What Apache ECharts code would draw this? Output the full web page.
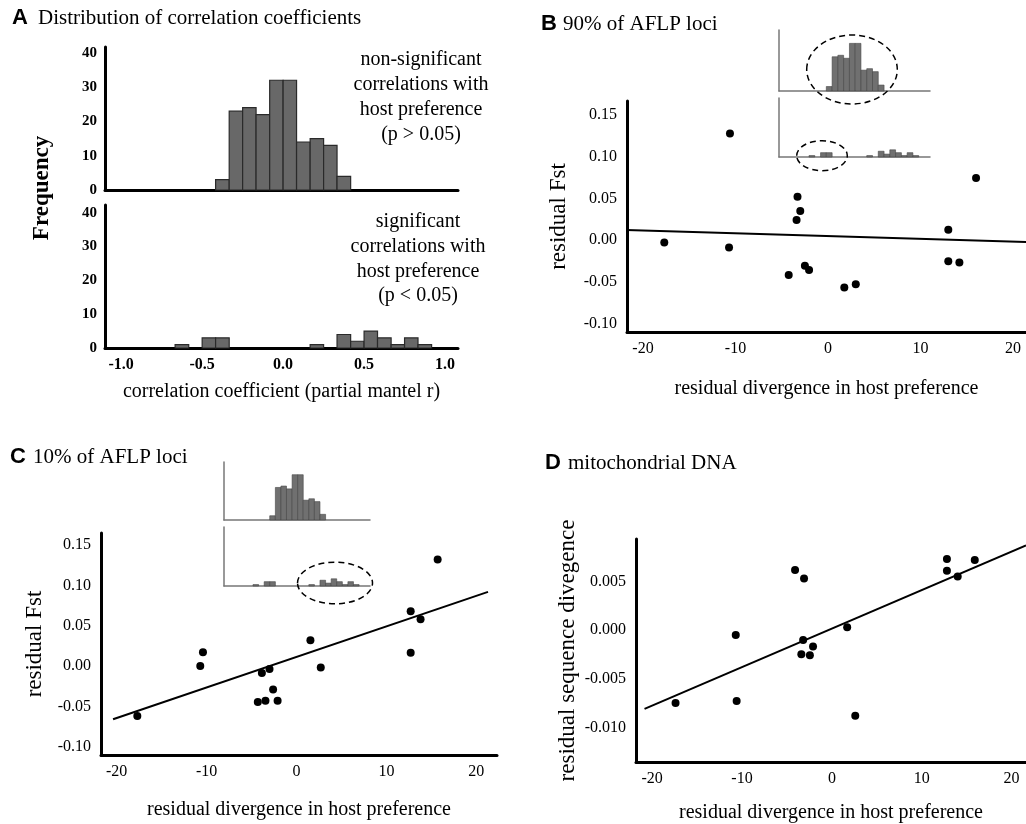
<!DOCTYPE html>
<html>
<head>
<meta charset="utf-8">
<script src="https://cdn.jsdelivr.net/npm/echarts@6/dist/echarts.min.js"></script>
<style>
  html, body { margin: 0; padding: 0; background: #fff; }
  #app { width: 1026px; height: 824px; }
</style>
</head>
<body>
<div id="app"></div>
<script>
// histogram bins (partial mantel r), shared by panel A and the insets
const binEdges = [-0.667, -0.583, -0.5, -0.417, -0.333, -0.25, -0.167, -0.083, 0, 0.083,
  0.167, 0.25, 0.333, 0.417, 0.5, 0.583, 0.667, 0.75, 0.833, 0.917];
const nonSigCounts = [0, 0, 0, 3, 23, 24, 22, 32, 32, 14, 15, 13, 4, 0, 0, 0, 0, 0, 0];
const sigCounts = [1, 0, 3, 3, 0, 0, 0, 0, 0, 0, 1, 0, 4, 2, 5, 3, 1, 3, 1];

// tick labels
const rTicks = [-1, -0.5, 0, 0.5, 1];
const freqTicks = [0, 10, 20, 30, 40];
const hostTicks = [-20, -10, 0, 10, 20];
const fstTicks = [-0.1, -0.05, 0, 0.05, 0.1, 0.15];
const seqTicks = [-0.01, -0.005, 0, 0.005];

// B: 90% of AFLP loci
const hostB = [-17.7, -10.7, -10.6, -3.3, -3.0, -3.4, -4.25, -2.5, -2.05, 1.76, 3.0, 13.0, 13.0, 14.2, 16.0];
const fst90 = [-0.003, -0.009, 0.128, 0.052, 0.035, 0.024, -0.042, -0.031, -0.036, -0.057, -0.053, 0.0124, -0.0256, -0.027, 0.0744];
const fit90 = [[-21.8, 0.012], [21.4, -0.0024]];

// C: 10% of AFLP loci
const hostC = [-17.7, -10.7, -10.4, -3.85, -3.0, -4.3, -3.45, -2.1, -2.6, 1.55, 2.7, 12.7, 13.8, 12.7, 15.7];
const fst10 = [-0.062, 0.0, 0.017, -0.0087, -0.0037, -0.0447, -0.043, -0.043, -0.029, 0.032, -0.002, 0.068, 0.058, 0.0165, 0.132];
const fit10 = [[-20.4, -0.066], [21.3, 0.092]];

// D: mitochondrial DNA
const hostD = [-4.1, -3.1, 12.8, 12.8, 14.0, 15.9, 1.7, -10.7, -3.2, -2.1, -3.4, -2.45, -17.4, -10.6, 2.6];
const seqDiv = [0.00616, 0.0053, 0.0073, 0.0061, 0.0055, 0.0072, 0.00028, -0.0005, -0.00103, -0.0017, -0.0025, -0.0026, -0.0075, -0.0073, -0.0088];
const fitSeq = [[-20.85, -0.0081], [21.6, 0.0087]];

const serif = '"Liberation Serif", "Times New Roman", serif';
const sans = '"Liberation Sans", Arial, sans-serif';

const toBins = counts => counts
  .map((c, i) => [binEdges[i], binEdges[i + 1], c])
  .filter(d => d[2] > 0);
const toPts = (xs, ys) => xs.map((x, i) => [x, ys[i]]);

function histItem(fill, stroke, lw) {
  return function (params, api) {
    const p0 = api.coord([api.value(0), api.value(2)]);
    const p1 = api.coord([api.value(1), 0]);
    return {
      type: 'rect',
      shape: { x: p0[0], y: p0[1], width: p1[0] - p0[0], height: p1[1] - p0[1] },
      style: { fill: fill, stroke: stroke, lineWidth: lw }
    };
  };
}

// hist axes (main + insets)
function rAxis(grid, labels, lineColor, lw) {
  return {
    type: 'value', gridIndex: grid, min: -1.1, max: 1.08,
    axisLine: { onZero: false, lineStyle: { color: lineColor, width: lw } },
    axisTick: { show: false }, splitLine: { show: false },
    axisLabel: labels ? {
      customValues: rTicks, margin: 9,
      formatter: v => v.toFixed(1),
      color: '#000', fontFamily: serif, fontWeight: 'bold', fontSize: 16
    } : { show: false }
  };
}
function fAxis(grid, max, labels, lineColor, lw) {
  return {
    type: 'value', gridIndex: grid, min: 0, max: max,
    axisLine: { show: true, onZero: false, lineStyle: { color: lineColor, width: lw } },
    axisTick: { show: false }, splitLine: { show: false },
    axisLabel: labels ? {
      customValues: freqTicks, margin: 8,
      color: '#000', fontFamily: serif, fontWeight: 'bold', fontSize: 15
    } : { show: false }
  };
}
function hostAxis(grid, min, max, gap) {
  return {
    type: 'value', gridIndex: grid, min: min, max: max,
    name: 'residual divergence in host preference',
    nameLocation: 'middle', nameGap: gap,
    nameTextStyle: { fontFamily: serif, fontSize: 20, color: '#000' },
    axisLine: { onZero: false, lineStyle: { color: '#000', width: 3 } },
    axisTick: { show: false }, splitLine: { show: false },
    axisLabel: {
      customValues: hostTicks, margin: 9,
      color: '#000', fontFamily: serif, fontSize: 16
    }
  };
}
function resAxis(grid, min, max, ticks, digits, name, gap) {
  return {
    type: 'value', gridIndex: grid, min: min, max: max,
    name: name, nameLocation: 'middle', nameGap: gap,
    nameTextStyle: { fontFamily: serif, fontSize: 23, color: '#000' },
    axisLine: { show: true, onZero: false, lineStyle: { color: '#000', width: 3 } },
    axisTick: { show: false }, splitLine: { show: false },
    axisLabel: {
      customValues: ticks, margin: 10,
      formatter: v => v.toFixed(digits),
      color: '#000', fontFamily: serif, fontSize: 16
    }
  };
}

const dot = { symbol: 'circle', symbolSize: 8, itemStyle: { color: '#000', opacity: 1 } };
const fitLine = { type: 'line', symbol: 'none', lineStyle: { color: '#000', width: 2 } };

const myChart = echarts.init(document.getElementById('app'));
const option = {
  animation: false,
  backgroundColor: '#fff',
  grid: [
    { left: 105, top: 47, width: 353, height: 143 },   // A top
    { left: 105, top: 205, width: 353, height: 143 },  // A bottom
    { left: 627, top: 101, width: 399, height: 231 },  // B
    { left: 101, top: 533, width: 396, height: 222 },  // C
    { left: 636, top: 539, width: 390, height: 223 },  // D
    { left: 779, top: 30, width: 151, height: 61 },    // B inset top
    { left: 779, top: 98, width: 151, height: 59 },    // B inset bottom
    { left: 224, top: 462, width: 146, height: 58 },   // C inset top
    { left: 224, top: 527, width: 146, height: 59 }    // C inset bottom
  ],
  xAxis: [
    rAxis(0, false, '#000', 3),
    Object.assign(rAxis(1, true, '#000', 3), {
      name: 'correlation coefficient (partial mantel r)',
      nameLocation: 'middle', nameGap: 34,
      nameTextStyle: { fontFamily: serif, fontSize: 20, color: '#000' }
    }),
    hostAxis(2, -21.73, 21.4, 47),
    hostAxis(3, -21.74, 22.3, 45),
    hostAxis(4, -21.8, 21.6, 41),
    rAxis(5, false, '#777', 1.5),
    rAxis(6, false, '#777', 1.5),
    rAxis(7, false, '#777', 1.5),
    rAxis(8, false, '#777', 1.5)
  ],
  yAxis: [
    fAxis(0, 41.7, true, '#000', 3),
    fAxis(1, 42.3, true, '#000', 3),
    resAxis(2, -0.1104, 0.1669, fstTicks, 2, 'residual Fst', 57),
    resAxis(3, -0.1104, 0.165, fstTicks, 2, 'residual Fst', 55),
    resAxis(4, -0.01356, 0.00935, seqTicks, 3, 'residual sequence divegence', 57),
    fAxis(5, 41, false, '#777', 1.5),
    fAxis(6, 41, false, '#777', 1.5),
    fAxis(7, 41, false, '#777', 1.5),
    fAxis(8, 41, false, '#777', 1.5)
  ],
  series: [
    { type: 'custom', xAxisIndex: 0, yAxisIndex: 0, data: toBins(nonSigCounts),
      renderItem: histItem('#686868', '#2a2a2a', 1.2), encode: { x: [0, 1], y: 2 } },
    { type: 'custom', xAxisIndex: 1, yAxisIndex: 1, data: toBins(sigCounts),
      renderItem: histItem('#686868', '#2a2a2a', 1.2), encode: { x: [0, 1], y: 2 } },
    { type: 'custom', xAxisIndex: 5, yAxisIndex: 5, data: toBins(nonSigCounts),
      renderItem: histItem('#707070', '#444', 0.6), encode: { x: [0, 1], y: 2 } },
    { type: 'custom', xAxisIndex: 6, yAxisIndex: 6, data: toBins(sigCounts),
      renderItem: histItem('#707070', '#444', 0.6), encode: { x: [0, 1], y: 2 } },
    { type: 'custom', xAxisIndex: 7, yAxisIndex: 7, data: toBins(nonSigCounts),
      renderItem: histItem('#707070', '#444', 0.6), encode: { x: [0, 1], y: 2 } },
    { type: 'custom', xAxisIndex: 8, yAxisIndex: 8, data: toBins(sigCounts),
      renderItem: histItem('#707070', '#444', 0.6), encode: { x: [0, 1], y: 2 } },

    Object.assign({ type: 'scatter', xAxisIndex: 2, yAxisIndex: 2, data: toPts(hostB, fst90) }, dot),
    Object.assign({ xAxisIndex: 2, yAxisIndex: 2, data: fit90 }, fitLine),
    Object.assign({ type: 'scatter', xAxisIndex: 3, yAxisIndex: 3, data: toPts(hostC, fst10) }, dot),
    Object.assign({ xAxisIndex: 3, yAxisIndex: 3, data: fit10 }, fitLine),
    Object.assign({ type: 'scatter', xAxisIndex: 4, yAxisIndex: 4, data: toPts(hostD, seqDiv) }, dot),
    Object.assign({ xAxisIndex: 4, yAxisIndex: 4, data: fitSeq }, fitLine)
  ],
  graphic: [
    // panel headings
    { type: 'text', x: 12, y: 18, style: { text: 'A', font: 'bold 22px ' + sans, fill: '#000', verticalAlign: 'middle' } },
    { type: 'text', x: 38, y: 18, style: { text: 'Distribution of correlation coefficients', font: '21px ' + serif, fill: '#000', verticalAlign: 'middle' } },
    { type: 'text', x: 541, y: 24, style: { text: 'B', font: 'bold 22px ' + sans, fill: '#000', verticalAlign: 'middle' } },
    { type: 'text', x: 563, y: 24, style: { text: '90% of AFLP loci', font: '21px ' + serif, fill: '#000', verticalAlign: 'middle' } },
    { type: 'text', x: 10, y: 457, style: { text: 'C', font: 'bold 22px ' + sans, fill: '#000', verticalAlign: 'middle' } },
    { type: 'text', x: 33, y: 457, style: { text: '10% of AFLP loci', font: '21px ' + serif, fill: '#000', verticalAlign: 'middle' } },
    { type: 'text', x: 545, y: 463, style: { text: 'D', font: 'bold 22px ' + sans, fill: '#000', verticalAlign: 'middle' } },
    { type: 'text', x: 568, y: 463, style: { text: 'mitochondrial DNA', font: '21px ' + serif, fill: '#000', verticalAlign: 'middle' } },
    // panel A labels
    { type: 'text', x: 42, y: 188, rotation: Math.PI / 2,
      style: { text: 'Frequency', font: 'bold 23px ' + serif, fill: '#000', align: 'center', verticalAlign: 'middle' } },
    { type: 'text', x: 421, y: 97,
      style: { text: 'non-significant\ncorrelations with\nhost preference\n(p > 0.05)', font: '20px ' + serif,
        lineHeight: 25, fill: '#000', align: 'center', verticalAlign: 'middle' } },
    { type: 'text', x: 418, y: 259,
      style: { text: 'significant\ncorrelations with\nhost preference\n(p < 0.05)', font: '20px ' + serif,
        lineHeight: 24.7, fill: '#000', align: 'center', verticalAlign: 'middle' } },
    // dashed ellipses on the insets
    { type: 'ellipse', z: 100, shape: { cx: 852, cy: 69.5, rx: 45.3, ry: 34.5 },
      style: { fill: 'none', stroke: '#000', lineWidth: 1.5, lineDash: [6, 4] } },
    { type: 'ellipse', z: 100, shape: { cx: 822, cy: 155.7, rx: 25.3, ry: 15 },
      style: { fill: 'none', stroke: '#000', lineWidth: 1.5, lineDash: [6, 4] } },
    { type: 'ellipse', z: 100, shape: { cx: 335, cy: 583, rx: 37.5, ry: 20.8 },
      style: { fill: 'none', stroke: '#000', lineWidth: 1.5, lineDash: [6, 4] } }
  ]
};

myChart.setOption(option);
</script>
</body>
</html>
